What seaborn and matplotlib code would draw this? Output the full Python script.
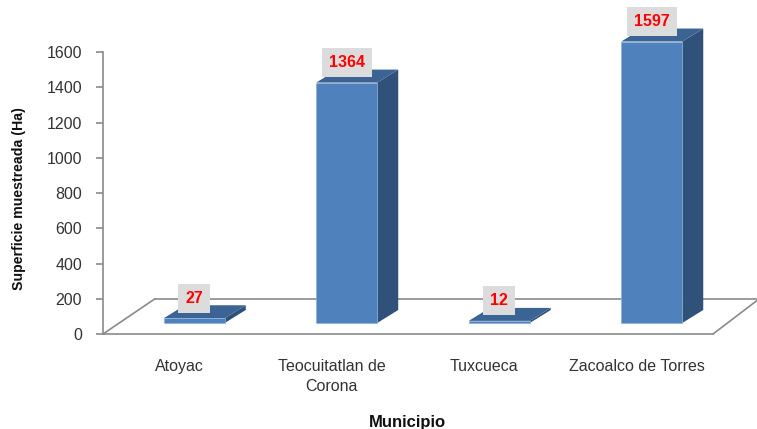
import matplotlib
matplotlib.use("Agg")
import matplotlib.pyplot as plt
import seaborn as sns
import pandas as pd
from matplotlib.patches import Polygon
from matplotlib.transforms import Affine2D

municipios = ["Atoyac", "Teocuitatlan de\nCorona", "Tuxcueca", "Zacoalco de Torres"]
superficie = [27, 1364, 12, 1597]
y_ticks = [0, 200, 400, 600, 800, 1000, 1200, 1400, 1600]
y_label = "Superficie muestreada (Ha)"
x_label = "Municipio"

FRONT, SIDE, TOP = "#4F81BD", "#30527A", "#3B6394"
LINE, TEXT = "#8A8A8A", "#333333"

sns.set_theme(style="white")
plt.rcParams["font.family"] = ["Liberation Sans", "DejaVu Sans"]

W, H = 757, 429
fig = plt.figure(figsize=(W / 100, H / 100), dpi=100)
ax = fig.add_axes([103 / W, (H - 334) / H, 610 / W, 282 / H])
df = pd.DataFrame({"m": municipios, "s": superficie})
sns.barplot(data=df, x="m", y="s", color=FRONT, saturation=1, width=0.4, ax=ax,
            edgecolor="#8FAFD6", linewidth=0.5, zorder=3)
ax.set_xlim(-0.5, 3.5)
ax.set_ylim(0, 1600)

# pixel-to-data scale of the axes
ux, uy = 4 / 610, 1600 / 282
shift = ax.transData + Affine2D().translate(15, 11)
dx, dy = 21 * ux, 13 * uy

for p in list(ax.patches):
    p.set_transform(shift)
    p.set_clip_on(False)
    x0, x1, v = p.get_x(), p.get_x() + p.get_width(), p.get_height()
    ax.add_patch(Polygon([(x1, 0), (x1 + dx, dy), (x1 + dx, v + dy), (x1, v)], closed=True,
                         fc=SIDE, ec="none", transform=shift, clip_on=False, zorder=2.9))
    ax.add_patch(Polygon([(x0, v), (x0 + dx, v + dy), (x1 + dx, v + dy), (x1, v)], closed=True,
                         fc=TOP, ec="none", transform=shift, clip_on=False, zorder=2.9))
    ax.annotate(f"{v:.0f}", (x0 + p.get_width() / 2, v), xycoords=shift,
                xytext=(0, 14.4), textcoords="offset points", ha="center", va="center",
                color="#FF0000", fontweight="bold", fontsize=11.5, zorder=5,
                bbox=dict(boxstyle="square,pad=0.44", fc="#DCDCDC", ec="none"))

# 3-D floor outline
back = 200
depth_x = 52 * ux
ax.plot([-0.5, -0.5 + depth_x], [0, back], color=LINE, lw=1.2, clip_on=False, zorder=1)
ax.plot([-0.5 + depth_x, (757 - 103) * ux - 0.5], [back, back], color=LINE, lw=1.2, clip_on=False, zorder=1)
ax.plot([3.5, (757 - 103) * ux - 0.5], [0, back * 0.95], color=LINE, lw=1.2, clip_on=False, zorder=1)

sns.despine(ax=ax, top=True, right=True)
for s in ("left", "bottom"):
    ax.spines[s].set_color(LINE)
    ax.spines[s].set_linewidth(1.2)
ax.set_yticks(y_ticks)
ax.tick_params(axis="y", left=True, length=5, width=1.2, color=LINE, labelcolor=TEXT, labelsize=11.5, pad=10)
ax.tick_params(axis="x", bottom=False, length=0, labelcolor=TEXT, labelsize=11.5, pad=18)
ax.set_xlabel("")
ax.set_ylabel("")
for lab in ax.get_xticklabels():
    lab.set_linespacing(1.4)

fig.text(19 / W, 1 - 199 / H, y_label, rotation=90, ha="center", va="center",
         fontsize=10.2, fontweight="bold", color="#111111")
fig.text(407 / W, 1 - 422 / H, x_label, ha="center", va="center",
         fontsize=12, fontweight="bold", color="#111111")

fig.savefig("out.png", dpi=100, facecolor="white")
